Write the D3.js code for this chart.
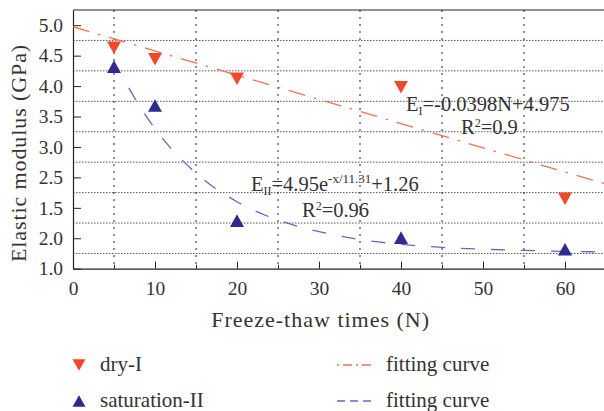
<!DOCTYPE html>
<html>
<head>
<meta charset="utf-8">
<script src="https://cdn.jsdelivr.net/npm/d3@7"></script>
<style>
  body { margin: 0; background: #fff; }
  svg { display: block; font-family: "Liberation Serif", "Times New Roman", serif; }
  .axis path, .axis line { stroke: #222; }
  .axis text { font-family: "Liberation Serif", serif; font-size: 19.5px; fill: #333; }
</style>
</head>
<body>
<div id="chart"></div>
<script>
// data
var cycles = [5, 10, 20, 40, 60];
var dryModulus = [4.63, 4.44, 4.12, 3.98, 2.15];
var satModulus = [4.32, 3.68, 1.79, 1.51, 1.32];

// fitting curves
var dryFitX = [0, 65];
var dryFitY = [4.975, 2.39];
var satFitX = [6.8, 8, 10, 12, 15, 20, 25, 30, 35, 40, 45, 50, 55, 60, 65];
var satFitY = [3.97, 3.70, 3.30, 2.97, 2.57, 2.10, 1.80, 1.61, 1.48, 1.40, 1.35, 1.32, 1.30, 1.285, 1.275];

var xTicks = [0, 10, 20, 30, 40, 50, 60];
var xGrid = [5, 15, 25, 35, 45, 55, 65];
var yTicks = [1.0, 1.5, 2.0, 2.5, 3.0, 3.5, 4.0, 4.5, 5.0];
var yTickLabels = ["1.0", "2.0", "1.5", "2.5", "3.0", "3.5", "4.0", "4.5", "5.0"];
var yGrid = [1.25, 1.75, 2.25, 2.75, 3.25, 3.75, 4.25, 4.75];

var legendNames = ["dry-I", "saturation-II"];
var fitName = "fitting curve";

var red = "#f0492a", redLine = "#f07058";
var blue = "#2e2a8e", blueLine = "#6a64c0";

var margin = {top: 10, left: 73},
    width = 533,
    height = 258.7;

var svg = d3.select("#chart").append("svg")
    .attr("width", 604)
    .attr("height", 411);

var g = svg.append("g")
    .attr("transform", "translate(" + margin.left + "," + margin.top + ")");

var x = d3.scaleLinear().domain([0, 65]).range([0, width]);
var y = d3.scaleLinear().domain([1.0, 5.25]).range([height, 0]);

// grid
g.selectAll(".hgrid").data(yGrid).enter().append("line")
    .attr("class", "hgrid")
    .attr("x1", 0).attr("x2", width)
    .attr("y1", function (d) { return y(d); })
    .attr("y2", function (d) { return y(d); })
    .attr("stroke", "#555")
    .attr("stroke-width", 1)
    .attr("stroke-dasharray", "1.5,1.5");

g.selectAll(".vgrid").data(xGrid).enter().append("line")
    .attr("class", "vgrid")
    .attr("y1", 0).attr("y2", height)
    .attr("x1", function (d) { return x(d); })
    .attr("x2", function (d) { return x(d); })
    .attr("stroke", "#222")
    .attr("stroke-width", 1)
    .attr("stroke-dasharray", "2,5");

// top frame
g.append("line")
    .attr("x1", 0).attr("x2", width)
    .attr("y1", 0).attr("y2", 0)
    .attr("stroke", "#222");

// axes
var xAxis = d3.axisBottom(x)
    .tickValues(xTicks)
    .tickSizeInner(-7)
    .tickSizeOuter(0)
    .tickPadding(12)
    .tickFormat(d3.format("d"));

var xMinor = d3.axisBottom(x)
    .tickValues(xGrid)
    .tickSizeInner(-4)
    .tickSizeOuter(0)
    .tickFormat("");

g.append("g")
    .attr("class", "x axis")
    .attr("transform", "translate(0," + height + ")")
    .call(xAxis);

g.append("g")
    .attr("class", "x axis minor")
    .attr("transform", "translate(0," + height + ")")
    .call(xMinor)
    .select(".domain").remove();

var yAxis = d3.axisLeft(y)
    .tickValues(yTicks)
    .tickSizeInner(-8)
    .tickSizeOuter(0)
    .tickPadding(10)
    .tickFormat(function (d, i) { return yTickLabels[i]; });

g.append("g")
    .attr("class", "y axis")
    .call(yAxis);

g.selectAll(".axis .domain").attr("stroke-width", 1.2);

// axis titles
svg.append("text")
    .attr("x", margin.left + x(30.2))
    .attr("y", 327)
    .attr("text-anchor", "middle")
    .style("font-size", "22px")
    .style("letter-spacing", "1px")
    .attr("fill", "#333")
    .text("Freeze-thaw times (N)");

svg.append("text")
    .attr("transform", "translate(26,153) rotate(-90)")
    .attr("text-anchor", "middle")
    .style("font-size", "22px")
    .style("letter-spacing", "0.9px")
    .attr("fill", "#333")
    .text("Elastic modulus (GPa)");

// clip for curves
g.append("clipPath").attr("id", "clip")
    .append("rect").attr("width", width).attr("height", height);

var line = d3.line()
    .x(function (d) { return x(d[0]); })
    .y(function (d) { return y(d[1]); });

g.append("path")
    .datum(d3.zip(dryFitX, dryFitY))
    .attr("clip-path", "url(#clip)")
    .attr("fill", "none")
    .attr("stroke", redLine)
    .attr("stroke-width", 1.3)
    .attr("stroke-dasharray", "17,9,2.5,9")
    .attr("d", line);

g.append("path")
    .datum(d3.zip(satFitX, satFitY))
    .attr("clip-path", "url(#clip)")
    .attr("fill", "none")
    .attr("stroke", blueLine)
    .attr("stroke-width", 1.3)
    .attr("stroke-dasharray", "14,16")
    .attr("d", line.curve(d3.curveMonotoneX));

// markers
function tri(cx, cy, s, down) {
  var h = s * 0.9, w = s / 2;
  if (down) return "M" + (cx - w) + "," + (cy - h / 2) + "L" + (cx + w) + "," + (cy - h / 2) + "L" + cx + "," + (cy + h / 2) + "Z";
  return "M" + (cx - w) + "," + (cy + h / 2) + "L" + (cx + w) + "," + (cy + h / 2) + "L" + cx + "," + (cy - h / 2) + "Z";
}

g.selectAll(".dry").data(d3.zip(cycles, dryModulus)).enter().append("path")
    .attr("class", "dry")
    .attr("fill", red)
    .attr("d", function (d) { return tri(x(d[0]), y(d[1]), 14, true); });

g.selectAll(".sat").data(d3.zip(cycles, satModulus)).enter().append("path")
    .attr("class", "sat")
    .attr("fill", blue)
    .attr("d", function (d) { return tri(x(d[0]), y(d[1]), 14, false); });

// equations
var eq1 = svg.append("text")
    .attr("x", 406)
    .attr("y", 111)
    .style("font-size", "20.5px")
    .attr("fill", "#333");
eq1.append("tspan").text("E");
eq1.append("tspan").attr("dy", 4).style("font-size", "12px").text("I");
eq1.append("tspan").attr("dy", -4).text("=-0.0398N+4.975");

var r1 = svg.append("text")
    .attr("x", 461)
    .attr("y", 134)
    .style("font-size", "20.5px")
    .attr("fill", "#333");
r1.append("tspan").text("R");
r1.append("tspan").attr("dy", -7).style("font-size", "12px").text("2");
r1.append("tspan").attr("dy", 7).text("=0.9");

var eq2 = svg.append("text")
    .attr("x", 251)
    .attr("y", 191)
    .style("font-size", "20.5px")
    .attr("fill", "#333");
eq2.append("tspan").text("E");
eq2.append("tspan").attr("dy", 4).style("font-size", "12px").text("II");
eq2.append("tspan").attr("dy", -4).text("=4.95e");
eq2.append("tspan").attr("dy", -8).style("font-size", "13px").text("-x/11.31");
eq2.append("tspan").attr("dy", 8).text("+1.26");

var r2 = svg.append("text")
    .attr("x", 302)
    .attr("y", 217)
    .style("font-size", "20.5px")
    .attr("fill", "#333");
r2.append("tspan").text("R");
r2.append("tspan").attr("dy", -7).style("font-size", "12px").text("2");
r2.append("tspan").attr("dy", 7).text("=0.96");

// legend
var legendY = [365, 401];
var lg = svg.append("g");
lg.append("path").attr("fill", red).attr("d", tri(79, legendY[0], 13, true));
lg.append("path").attr("fill", blue).attr("d", tri(79, legendY[1], 13, false));
lg.selectAll(".lname").data(legendNames).enter().append("text")
    .attr("x", 100)
    .attr("y", function (d, i) { return legendY[i] + 6; })
    .style("font-size", "21px")
    .attr("fill", "#333")
    .text(function (d) { return d; });

lg.append("line")
    .attr("x1", 337).attr("x2", 372)
    .attr("y1", legendY[0]).attr("y2", legendY[0])
    .attr("stroke", redLine).attr("stroke-width", 1.3)
    .attr("stroke-dasharray", "2,4,9,4");
lg.append("line")
    .attr("x1", 337).attr("x2", 372)
    .attr("y1", legendY[1]).attr("y2", legendY[1])
    .attr("stroke", blueLine).attr("stroke-width", 1.3)
    .attr("stroke-dasharray", "8,5");
lg.selectAll(".fname").data(legendY).enter().append("text")
    .attr("x", 386)
    .attr("y", function (d) { return d + 6; })
    .style("font-size", "21px")
    .attr("fill", "#333")
    .text(fitName);
</script>
</body>
</html>
